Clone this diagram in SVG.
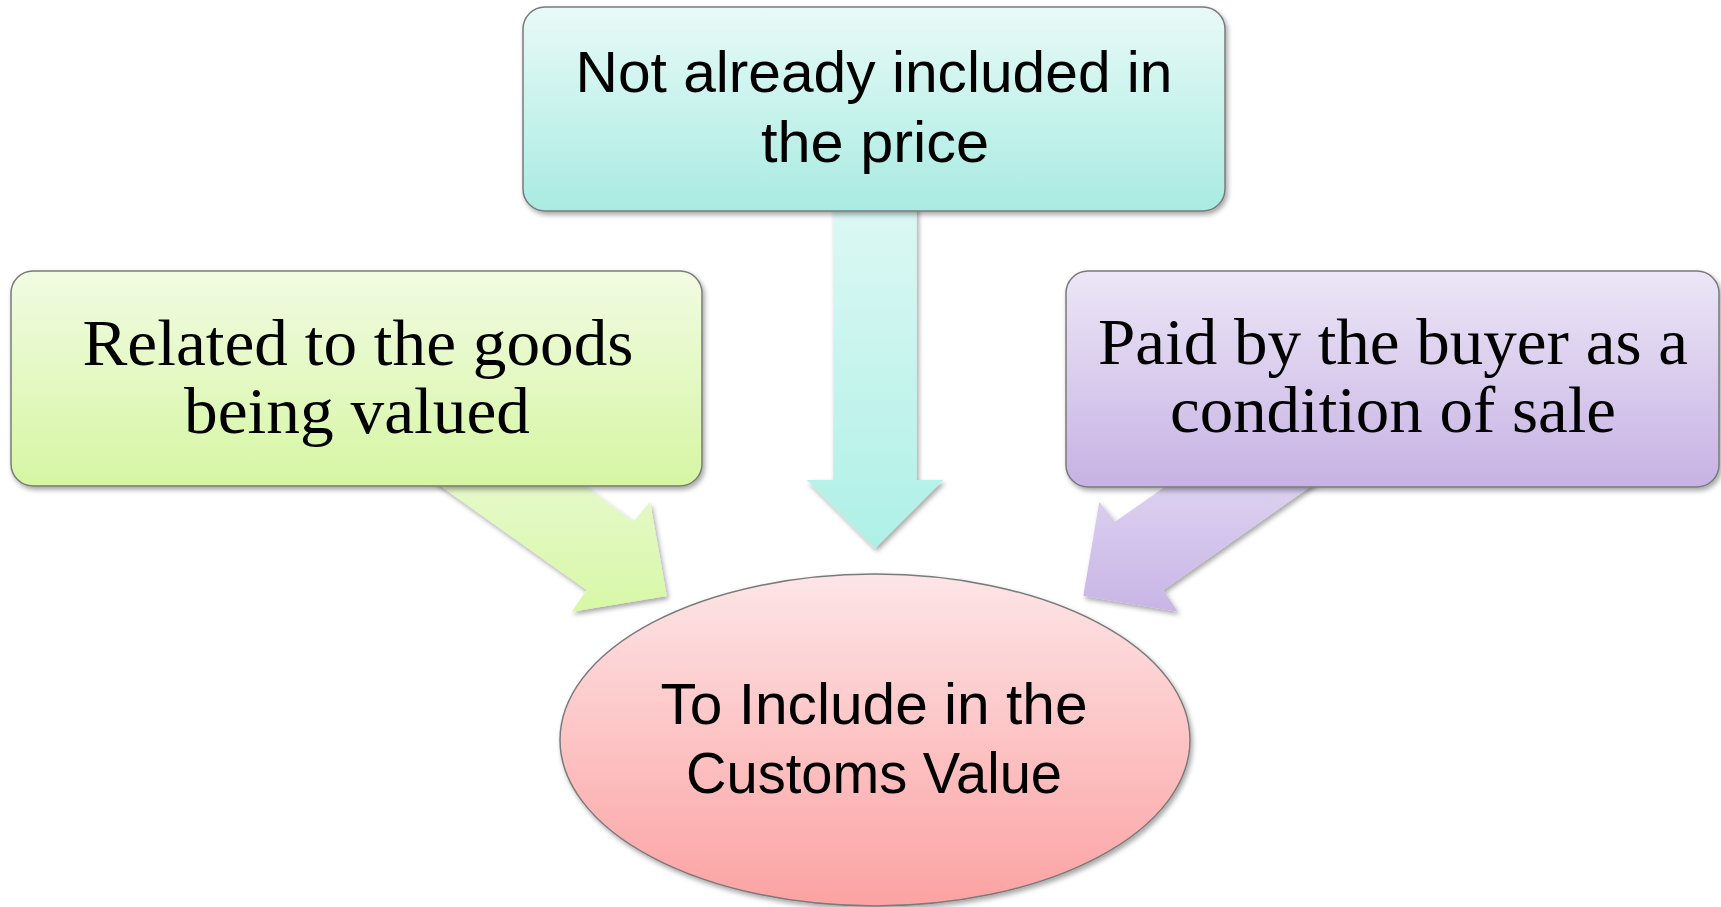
<svg xmlns="http://www.w3.org/2000/svg" width="1721" height="907" viewBox="0 0 1721 907">
  <defs>
    <linearGradient id="gCyan" x1="0" y1="0" x2="0" y2="1">
      <stop offset="0" stop-color="#e8faf7"/>
      <stop offset="1" stop-color="#a8ebe2"/>
    </linearGradient>
    <linearGradient id="gGreen" x1="0" y1="0" x2="0" y2="1">
      <stop offset="0" stop-color="#f1fbe2"/>
      <stop offset="1" stop-color="#d6f6a3"/>
    </linearGradient>
    <linearGradient id="gPurple" x1="0" y1="0" x2="0" y2="1">
      <stop offset="0" stop-color="#ece6f6"/>
      <stop offset="1" stop-color="#c7b2e4"/>
    </linearGradient>
    <linearGradient id="gPink" x1="0" y1="0" x2="0" y2="1">
      <stop offset="0" stop-color="#fde5e7"/>
      <stop offset="1" stop-color="#fca2a2"/>
    </linearGradient>
    <linearGradient id="aCyan" gradientUnits="userSpaceOnUse" x1="0" y1="205" x2="0" y2="550">
      <stop offset="0" stop-color="#dcf8f4"/>
      <stop offset="1" stop-color="#aef0e6"/>
    </linearGradient>
    <linearGradient id="aGreen" gradientUnits="userSpaceOnUse" x1="0" y1="480" x2="0" y2="612">
      <stop offset="0" stop-color="#e6f9cb"/>
      <stop offset="1" stop-color="#d7f8a6"/>
    </linearGradient>
    <linearGradient id="aPurple" gradientUnits="userSpaceOnUse" x1="0" y1="480" x2="0" y2="612">
      <stop offset="0" stop-color="#ddd2f0"/>
      <stop offset="1" stop-color="#c8b5e6"/>
    </linearGradient>
    <filter id="shadow" x="-10%" y="-10%" width="120%" height="130%">
      <feDropShadow dx="2" dy="3" stdDeviation="2.5" flood-color="#000" flood-opacity="0.35"/>
    </filter>
  </defs>
  <style>
    .box { stroke: #7a7a7a; stroke-width: 1.5; filter: url(#shadow); }
    .arrow { stroke: none; filter: url(#shadow); }
    .sans { font-family: "Liberation Sans", "Open Sans", Arial, sans-serif; font-size: 57px; fill: #000; text-anchor: middle; }
    .serif { font-family: "Liberation Serif", "Times New Roman", serif; font-size: 65px; fill: #000; text-anchor: middle; }
  </style>
  <rect width="1721" height="907" fill="#ffffff"/>

  <g id="connectors">
    <polygon class="arrow" fill="url(#aCyan)" points="833.3,200 916.7,200 916.7,480 943.3,480 875,548.3 806.7,480 833.3,480"/>
    <polygon class="arrow" fill="url(#aGreen)" points="425,475 569,475 633.3,521.7 650,501.7 666.7,596 571.7,611.7 586.7,590"/>
    <polygon class="arrow" fill="url(#aPurple)" points="1327,475 1182,475 1115,521.7 1099.3,501.7 1083.3,596 1177.7,611.7 1163.3,590"/>
  </g>

  <g id="node-top">
    <rect class="box" x="523" y="7" width="702" height="204" rx="22" ry="22" fill="url(#gCyan)"/>
    <text class="sans" x="874" y="92" textLength="597" lengthAdjust="spacingAndGlyphs">Not already included in</text>
    <text class="sans" x="875" y="162" textLength="228" lengthAdjust="spacingAndGlyphs">the price</text>
  </g>

  <g id="node-left">
    <rect class="box" x="11" y="271" width="691" height="215" rx="22" ry="22" fill="url(#gGreen)"/>
    <text class="serif" x="358" y="365" textLength="551" lengthAdjust="spacingAndGlyphs">Related to the goods</text>
    <text class="serif" x="357" y="433" textLength="346" lengthAdjust="spacingAndGlyphs">being valued</text>
  </g>

  <g id="node-right">
    <rect class="box" x="1066" y="271" width="653" height="216" rx="22" ry="22" fill="url(#gPurple)"/>
    <text class="serif" x="1393" y="364" textLength="590" lengthAdjust="spacingAndGlyphs">Paid by the buyer as a</text>
    <text class="serif" x="1393" y="432" textLength="446" lengthAdjust="spacingAndGlyphs">condition of sale</text>
  </g>

  <g id="node-center">
    <ellipse class="box" cx="875" cy="740" rx="315" ry="166" fill="url(#gPink)"/>
    <text class="sans" x="874" y="724" textLength="427" lengthAdjust="spacingAndGlyphs">To Include in the</text>
    <text class="sans" x="874" y="793" textLength="376" lengthAdjust="spacingAndGlyphs">Customs Value</text>
  </g>
</svg>
